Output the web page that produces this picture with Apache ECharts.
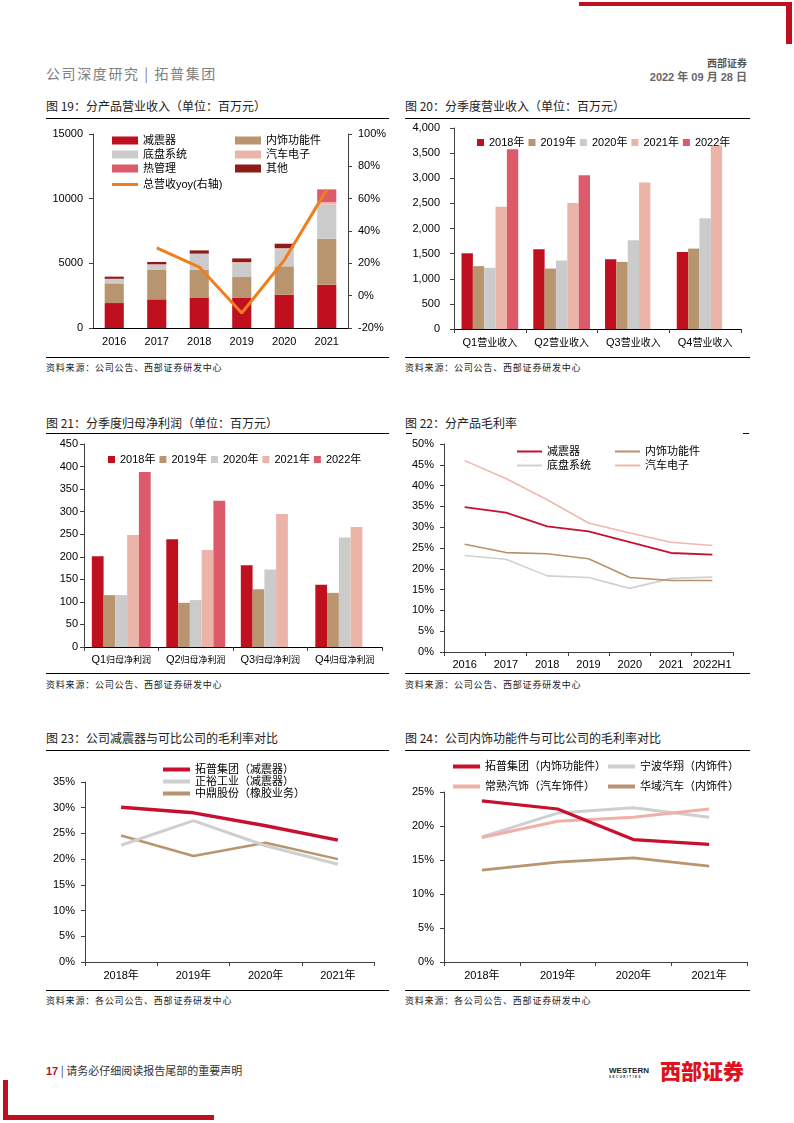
<!DOCTYPE html>
<html><head><meta charset="utf-8">
<script src="https://cdn.jsdelivr.net/npm/echarts@6/dist/echarts.min.js"></script>
<style>
body{margin:0;width:794px;height:1123px;position:relative;background:#fff;font-family:'Noto Sans CJK SC',sans-serif;overflow:hidden}
.t{position:absolute;font-size:12px;color:#222;white-space:nowrap;line-height:14px}
.src{position:absolute;font-size:9px;color:#222;letter-spacing:0.8px;white-space:nowrap;line-height:12px}
.ln{position:absolute;height:1px;background:#000}
.ch{position:absolute}
.red{position:absolute;background:#C00F1F}
</style></head><body>
<div class="red" style="left:579px;top:2px;width:213px;height:4px"></div>
<div class="red" style="left:786px;top:2px;width:6px;height:42px"></div>
<div style="position:absolute;left:46px;top:63px;font-size:14px;color:#808080;letter-spacing:1.6px;white-space:nowrap">公司深度研究 | 拓普集团</div>
<div style="position:absolute;right:47px;top:55px;font-size:10px;font-weight:bold;color:#555;white-space:nowrap">西部证券</div>
<div style="position:absolute;right:47px;top:68px;font-size:11px;font-weight:bold;color:#666;white-space:nowrap;font-family:'Liberation Sans','Noto Sans CJK SC'">2022 年 09 月 28 日</div>

<div class="t" style="left:46px;top:99px">图 19：分产品营业收入（单位：百万元）</div>
<div class="ln" style="left:46px;top:118px;width:343px"></div>
<div class="ch" id="c1" style="left:40px;top:120px;width:360px;height:235px"></div>
<div class="ln" style="left:46px;top:357px;width:343px"></div>
<div class="src" style="left:46px;top:362px">资料来源：公司公告、西部证券研发中心</div>

<div class="t" style="left:405px;top:99px">图 20：分季度营业收入（单位：百万元）</div>
<div class="ln" style="left:405px;top:118px;width:345px"></div>
<div class="ch" id="c2" style="left:400px;top:120px;width:360px;height:235px"></div>
<div class="ln" style="left:405px;top:357px;width:345px"></div>
<div class="src" style="left:405px;top:362px">资料来源：公司公告、西部证券研发中心</div>

<div class="t" style="left:46px;top:416px">图 21：分季度归母净利润（单位：百万元）</div>
<div class="ln" style="left:46px;top:433px;width:343px"></div>
<div class="ch" id="c3" style="left:40px;top:435px;width:360px;height:237px"></div>
<div class="ln" style="left:46px;top:673px;width:343px"></div>
<div class="src" style="left:46px;top:679px">资料来源：公司公告、西部证券研发中心</div>

<div class="t" style="left:405px;top:416px">图 22：分产品毛利率</div>
<div class="ln" style="left:406px;top:433px;width:6px"></div>
<div class="ln" style="left:743px;top:433px;width:6px"></div>
<div class="ch" id="c4" style="left:400px;top:435px;width:360px;height:237px"></div>
<div class="ln" style="left:405px;top:673px;width:345px"></div>
<div class="src" style="left:405px;top:679px">资料来源：公司公告、西部证券研发中心</div>

<div class="t" style="left:46px;top:731px">图 23：公司减震器与可比公司的毛利率对比</div>
<div class="ln" style="left:46px;top:750px;width:343px"></div>
<div class="ch" id="c5" style="left:40px;top:752px;width:360px;height:237px"></div>
<div class="ln" style="left:46px;top:990px;width:343px"></div>
<div class="src" style="left:46px;top:995px">资料来源：各公司公告、西部证券研发中心</div>

<div class="t" style="left:405px;top:731px">图 24：公司内饰功能件与可比公司的毛利率对比</div>
<div class="ln" style="left:405px;top:750px;width:345px"></div>
<div class="ch" id="c6" style="left:400px;top:752px;width:360px;height:237px"></div>
<div class="ln" style="left:405px;top:990px;width:345px"></div>
<div class="src" style="left:405px;top:995px">资料来源：各公司公告、西部证券研发中心</div>

<div style="position:absolute;left:46px;top:1063px;font-size:11px;white-space:nowrap;line-height:14px"><span style="color:#C00F1F;font-weight:bold;font-family:'Liberation Sans'">17</span> <span style="color:#333">| 请务必仔细阅读报告尾部的重要声明</span></div>
<div style="position:absolute;left:609px;top:1066px;font-size:8px;font-weight:bold;color:#222;font-family:'Liberation Sans';line-height:9px">WESTERN<div style="font-size:3px;line-height:4px;letter-spacing:1.5px">SECURITIES</div></div>
<div style="position:absolute;left:660px;top:1057px;font-size:21px;font-weight:900;color:#E0101E;white-space:nowrap;line-height:26px">西部证券</div>
<div class="red" style="left:3px;top:1080px;width:5px;height:40px"></div>
<div class="red" style="left:3px;top:1115px;width:211px;height:5px"></div>

<script>
// ---------- data ----------
const years19 = ['2016','2017','2018','2019','2020','2021'];
const shock19 = [1930, 2216, 2320, 2320, 2577, 3350];
const interior19 = [1520, 2270, 2190, 1620, 2190, 3557];
const chassis19 = [335, 410, 1210, 1080, 1290, 2630];
const electronics19 = [20, 30, 30, 80, 120, 200];
const thermal19 = [0, 0, 0, 0, 0, 980];
const other19 = [165, 180, 250, 280, 340, 0];
const yoy19 = [null, 29.5, 17.7, -10.7, 21.9, 65.6];

const quarters20 = ['Q1营业收入','Q2营业收入','Q3营业收入','Q4营业收入'];
const rev2018 = [1507, 1587, 1388, 1534];
const rev2019 = [1250, 1203, 1336, 1600];
const rev2020 = [1217, 1362, 1765, 2202];
const rev2021 = [2433, 2506, 2916, 3650];
const rev2022 = [3577, 3061, null, null];

const quarters21 = ['Q1归母净利润','Q2归母净利润','Q3归母净利润','Q4归母净利润'];
const np2018 = [201, 239, 181, 138];
const np2019 = [115, 98, 128, 120];
const np2020 = [115, 104, 172, 243];
const np2021 = [248, 215, 295, 266];
const np2022 = [388, 324, null, null];

const years22 = ['2016','2017','2018','2019','2020','2021','2022H1'];
const shockGM = [34.8, 33.5, 30.2, 29.0, 26.4, 23.8, 23.4];
const interiorGM = [25.9, 23.9, 23.6, 22.4, 17.9, 17.2, 17.2];
const chassisGM = [23.2, 22.3, 18.3, 17.9, 15.3, 17.7, 18.0];
const electronicsGM = [46.0, 41.7, 36.6, 31.0, 28.6, 26.4, 25.6];

const years23 = ['2018年','2019年','2020年','2021年'];
const tuopuShockGM = [30.1, 29.0, 26.5, 23.7];
const zhengyuGM = [22.7, 27.5, 22.6, 19.0];
const zhongdingGM = [24.6, 20.6, 23.2, 20.0];

const years24 = ['2018年','2019年','2020年','2021年'];
const tuopuInteriorGM = [23.7, 22.5, 18.0, 17.3];
const huaxiangGM = [18.4, 21.9, 22.7, 21.3];
const changshuGM = [18.3, 20.7, 21.3, 22.5];
const huayuGM = [13.5, 14.7, 15.3, 14.1];

// ---------- styles ----------
const FONT = "'Liberation Sans','Noto Sans CJK SC',sans-serif";
const AX = '#404040';
const lbl = (m, extra) => Object.assign({color:'#000', fontSize:11, fontFamily:FONT, margin:m}, extra||{});
const legTxt = {color:'#000', fontSize:11, fontFamily:FONT};
const pct = v => v + '%';
const plain = v => String(v);
const C = {red:'#C00F1F', tan:'#B9956F', gray:'#CBCBCB', pink:'#EBB4A8', rose:'#DC5A6A', dark:'#8E1A1A', orange:'#F07E1C'};

function catX(data, m, tick, extra) {
  return {type:'category', data, boundaryGap:true,
    axisLine:{lineStyle:{color:AX}}, axisTick:{show:tick, length:4, lineStyle:{color:AX}},
    axisLabel:lbl(m, Object.assign({interval:0}, extra||{}))};
}
function valY(min, max, interval, m, fmt) {
  return {type:'value', min, max, interval, splitLine:{show:false},
    axisLine:{show:true, lineStyle:{color:AX}}, axisTick:{show:true, length:4, lineStyle:{color:AX}},
    axisLabel:lbl(m, {formatter: fmt || plain})};
}
// split "Q1xxxx" into latin prefix + CJK part with a narrower CJK size
function richQ(cjkSize) {
  return {
    formatter: v => '{a|' + v.slice(0,2) + '}{b|' + v.slice(2) + '}',
    rich: {a:{fontSize:11, fontFamily:FONT, color:'#000'}, b:{fontSize:cjkSize, fontFamily:"'Noto Sans CJK SC'", color:'#000'}}
  };
}

// ---------- chart 19 ----------
(function(){
  const ch = echarts.init(document.getElementById('c1'));
  const bar = (name, data, color) => ({name, type:'bar', stack:'a', data, barWidth:'45%', itemStyle:{color}});
  ch.setOption({
    animation:false,
    grid:{left:53, top:14, width:255, height:194},
    legend:[
      {left:67, top:10, orient:'vertical', itemWidth:26, itemHeight:8, itemGap:3, icon:'rect', textStyle:legTxt,
       data:['减震器','底盘系统','热管理']},
      {left:190, top:10, orient:'vertical', itemWidth:26, itemHeight:8, itemGap:3, icon:'rect', textStyle:legTxt,
       data:['内饰功能件','汽车电子','其他']},
      {left:67, top:54, orient:'vertical', itemWidth:26, itemHeight:3, icon:'rect', textStyle:legTxt,
       data:['总营收yoy(右轴)']}
    ],
    xAxis: Object.assign(catX(years19, 8, false), {axisLine:{lineStyle:{color:'#000'}}}),
    yAxis:[ valY(0, 15000, 5000, 10), Object.assign(valY(-20, 100, 20, 10, pct), {position:'right'}) ],
    series:[
      bar('减震器', shock19, C.red),
      bar('内饰功能件', interior19, C.tan),
      bar('底盘系统', chassis19, C.gray),
      bar('汽车电子', electronics19, C.pink),
      bar('热管理', thermal19, C.rose),
      bar('其他', other19, C.dark),
      {name:'总营收yoy(右轴)', type:'line', yAxisIndex:1, data:yoy19, symbol:'none', z:5,
       lineStyle:{color:C.orange, width:3}, itemStyle:{color:C.orange}}
    ]
  });
})();

// ---------- chart 20 & 21 ----------
function quarterBars(id, cats, sets, grid, ymax, yint, ym, legLeft, legTop, fmt, xm, cjk) {
  const ch = echarts.init(document.getElementById(id));
  const names = ['2018年','2019年','2020年','2021年','2022年'];
  const colors = [C.red, C.tan, C.gray, C.pink, C.rose];
  ch.setOption({
    animation:false,
    grid,
    legend:{left:legLeft, top:legTop, itemWidth:7, itemHeight:7, itemGap:4, icon:'rect', textStyle:legTxt, data:names},
    xAxis: Object.assign(catX(cats, xm, true, richQ(cjk)), {axisLine:{lineStyle:{color:'#000'}}}),
    yAxis: valY(0, ymax, yint, ym, fmt),
    series: sets.map((d,i) => ({name:names[i], type:'bar', data:d, barGap:'0%', barCategoryGap:'21%', itemStyle:{color:colors[i]}}))
  });
}
quarterBars('c2', quarters20, [rev2018, rev2019, rev2020, rev2021, rev2022],
  {left:54, top:8, width:287, height:201}, 4000, 500, 14, 72, 12, v => v.toLocaleString('en-US'), 8, 10);
quarterBars('c3', quarters21, [np2018, np2019, np2020, np2021, np2022],
  {left:44, top:9, width:298, height:203}, 450, 50, 6, 63, 14, null, 7, 9);

// ---------- line charts ----------
function lineChart(id, cats, series, grid, ymax, yint, legends, xm) {
  const ch = echarts.init(document.getElementById(id));
  ch.setOption({
    animation:false,
    grid,
    legend: legends.map(l => ({left:l.left, top:l.top, orient:'vertical', itemWidth:l.w, itemHeight:l.h, itemGap:l.gap,
      icon:'rect', textStyle:legTxt, data:l.data})),
    xAxis: Object.assign(catX(cats, xm, true), {axisLine:{lineStyle:{color:AX}}}),
    yAxis: valY(0, ymax, yint, 10, pct),
    series: series.map(s => ({name:s.name, type:'line', data:s.data, symbol:'none', z:s.z||2,
      lineStyle:{color:s.color, width:s.width}, itemStyle:{color:s.color}}))
  });
}
lineChart('c4', years22, [
    {name:'汽车电子', data:electronicsGM, color:'#F0B8AC', width:1.6},
    {name:'底盘系统', data:chassisGM, color:'#D0D0D0', width:1.6},
    {name:'内饰功能件', data:interiorGM, color:'#B8916A', width:1.6},
    {name:'减震器', data:shockGM, color:'#C8102E', width:1.8, z:3}
  ], {left:44, top:9, width:289, height:208}, 50, 5,
  [{left:112, top:6, w:25, h:2, gap:3, data:['减震器','底盘系统']},
   {left:210, top:6, w:25, h:2, gap:3, data:['内饰功能件','汽车电子']}], 7);

lineChart('c5', years23, [
    {name:'中鼎股份（橡胶业务）', data:zhongdingGM, color:'#B8956E', width:2.5},
    {name:'正裕工业（减震器）', data:zhengyuGM, color:'#CFCFCF', width:3},
    {name:'拓普集团（减震器）', data:tuopuShockGM, color:'#C8102E', width:3.5, z:3}
  ], {left:45, top:30, width:289, height:180}, 35, 5,
  [{left:118, top:7, w:27, h:4, gap:1, data:['拓普集团（减震器）','正裕工业（减震器）','中鼎股份（橡胶业务）']}], 8);

lineChart('c6', years24, [
    {name:'华域汽车（内饰件）', data:huayuGM, color:'#B8956E', width:2.8},
    {name:'宁波华翔（内饰件）', data:huaxiangGM, color:'#CFCFCF', width:3},
    {name:'常熟汽饰（汽车饰件）', data:changshuGM, color:'#F0B0A8', width:3},
    {name:'拓普集团（内饰功能件）', data:tuopuInteriorGM, color:'#C8102E', width:3.2, z:3}
  ], {left:44, top:40, width:303, height:170}, 25, 5,
  [{left:48, top:4, w:27, h:4, gap:9, data:['拓普集团（内饰功能件）','常熟汽饰（汽车饰件）']},
   {left:203, top:4, w:27, h:4, gap:9, data:['宁波华翔（内饰件）','华域汽车（内饰件）']}], 8);
</script>
</body></html>
